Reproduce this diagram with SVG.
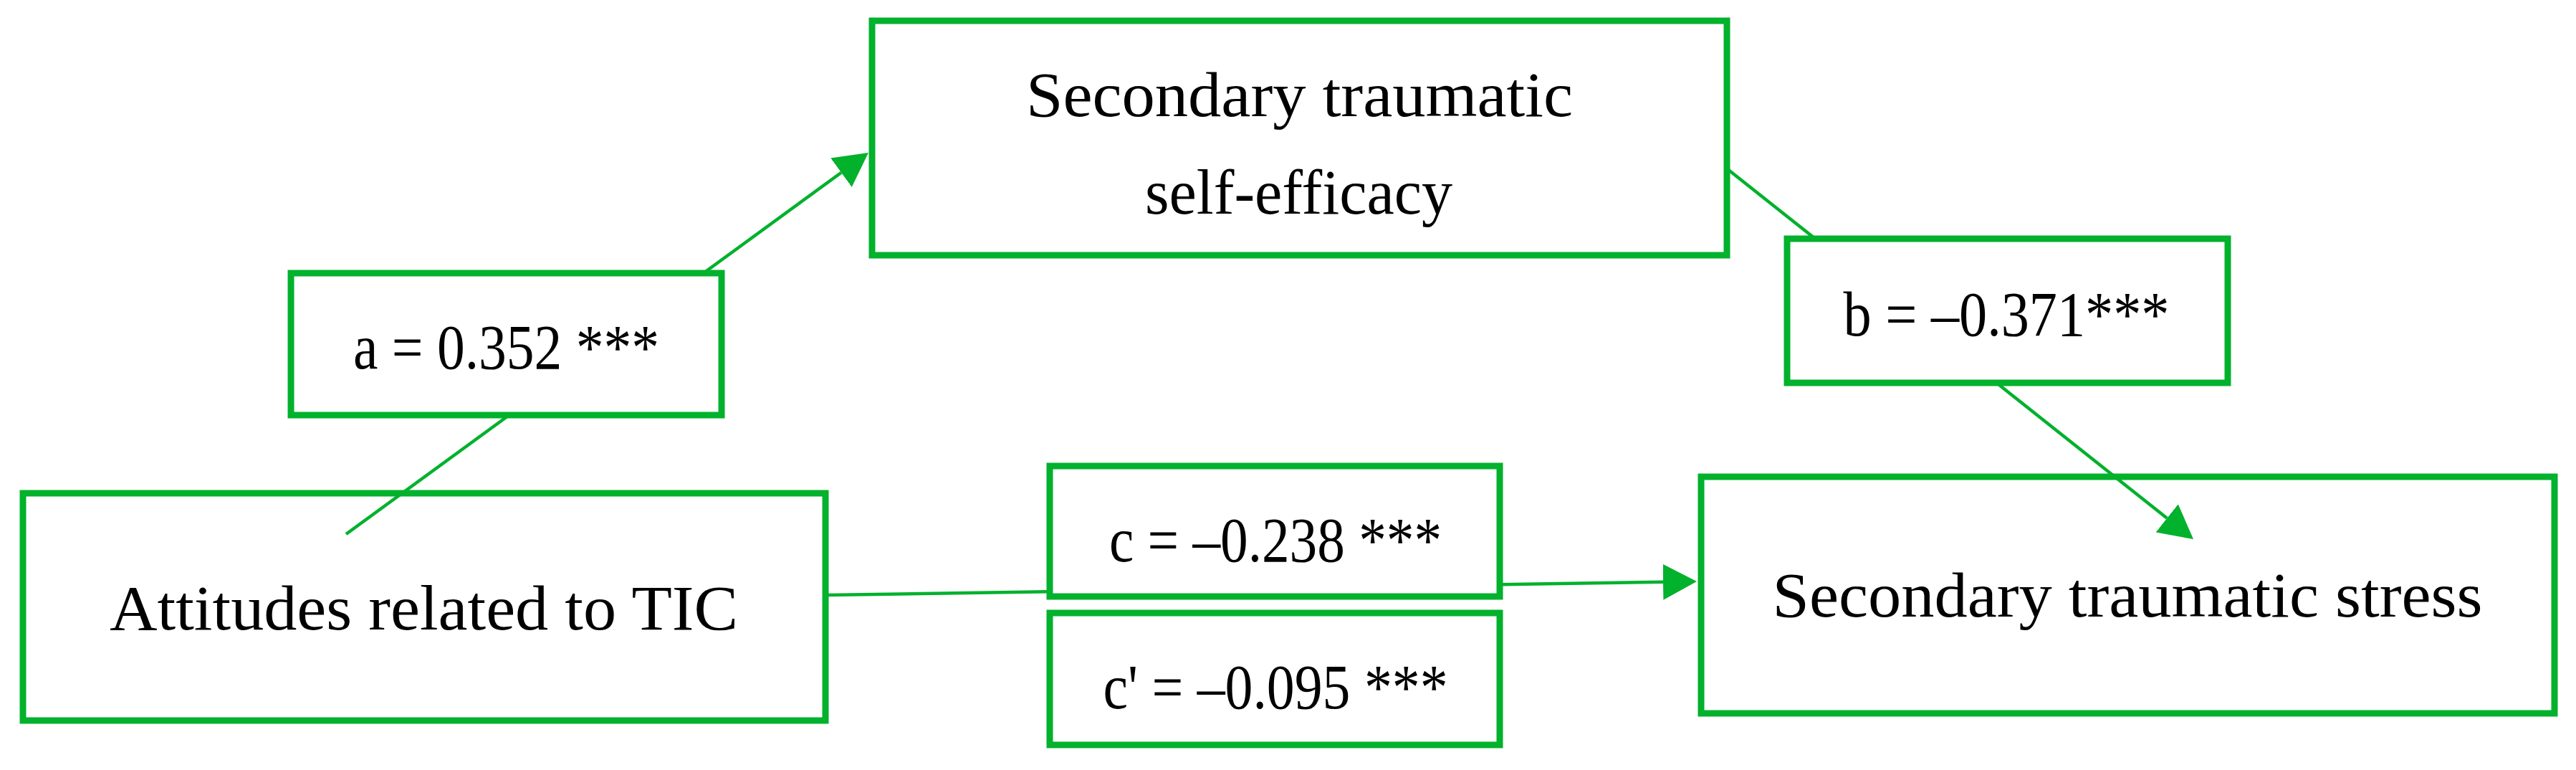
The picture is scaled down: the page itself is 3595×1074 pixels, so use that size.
<svg xmlns="http://www.w3.org/2000/svg" width="3595" height="1074" viewBox="0 0 3595 1074">
<style>
.box{fill:#ffffff;stroke:#02B12C;stroke-width:9}
.lbl{fill:#ffffff;stroke:#02B12C;stroke-width:9}
.edge{stroke:#02B12C;stroke-width:4.5;fill:none}
text{font-family:"Liberation Serif","Times New Roman",serif;font-size:88px;fill:#000000;text-anchor:middle}
</style>
<defs>
<marker id="arr" markerUnits="userSpaceOnUse" markerWidth="47" markerHeight="50" refX="0" refY="25" orient="auto">
<path d="M0,0 L47,25 L0,50 Z" fill="#02B12C"/>
</marker>
</defs>
<rect width="3595" height="1074" fill="#ffffff"/>
<g id="node-attitudes">
<rect class="box" x="32" y="688" width="1120" height="317"/>
<text x="591.5" y="878" textLength="877" lengthAdjust="spacingAndGlyphs">Attitudes related to TIC</text>
</g>
<g id="node-stse">
<rect class="box" x="1217" y="29" width="1193" height="327"/>
<text x="1813.5" y="162" textLength="763" lengthAdjust="spacingAndGlyphs">Secondary traumatic</text>
<text x="1812.5" y="298" textLength="429" lengthAdjust="spacingAndGlyphs">self-efficacy</text>
</g>
<g id="node-sts">
<rect class="box" x="2374" y="665" width="1191" height="330"/>
<text x="2969" y="860" textLength="991" lengthAdjust="spacingAndGlyphs">Secondary traumatic stress</text>
</g>
<g id="connectors">
<line class="edge" x1="483" y1="745" x2="1174" y2="240.7" marker-end="url(#arr)"/>
<line class="edge" x1="2411" y1="236" x2="3024.2" y2="722.8" marker-end="url(#arr)"/>
<line class="edge" x1="1154" y1="830" x2="2321" y2="811.7" marker-end="url(#arr)"/>
</g>
<g id="label-a">
<rect class="lbl" x="406" y="381" width="601" height="198"/>
<text x="706.5" y="514" textLength="427" lengthAdjust="spacingAndGlyphs">a = 0.352 ***</text>
</g>
<g id="label-b">
<rect class="lbl" x="2494" y="333" width="615" height="201"/>
<text x="2800" y="468" textLength="455" lengthAdjust="spacingAndGlyphs">b = –0.371***</text>
</g>
<g id="label-c">
<rect class="lbl" x="1465" y="650" width="628" height="182"/>
<text x="1780" y="783" textLength="464" lengthAdjust="spacingAndGlyphs">c = –0.238 ***</text>
</g>
<g id="label-c-prime">
<rect class="lbl" x="1465" y="855" width="628" height="184"/>
<text x="1780" y="988" textLength="481" lengthAdjust="spacingAndGlyphs">c' = –0.095 ***</text>
</g>
</svg>
